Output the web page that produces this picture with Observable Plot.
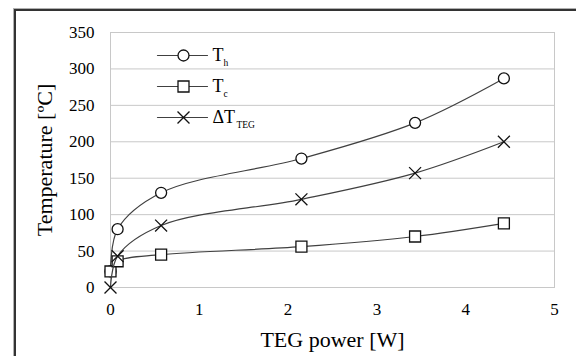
<!DOCTYPE html>
<html>
<head>
<meta charset="utf-8">
<script src="https://cdn.jsdelivr.net/npm/d3@7"></script>
<script src="https://cdn.jsdelivr.net/npm/@observablehq/plot@0.6"></script>
<style>
  html, body { margin: 0; padding: 0; background: #fff; }
  #wrap { position: relative; width: 576px; height: 356px; overflow: hidden; }
  #border {
    position: absolute; left: 14px; top: 9px; width: 600px; height: 400px;
    border-left: 2px solid #333; border-top: 2px solid #333;
    box-shadow: -1px -1px 0 #b0b0b0;
    pointer-events: none;
  }
  #chart { position: absolute; left: 0; top: 0; }
</style>
</head>
<body>
<div id="wrap"><div id="chart"></div><div id="border"></div></div>
<script>
// TEG electrical power output [W]
const power = [0, 0.08, 0.57, 2.15, 3.43, 4.43];
// hot-side temperature [°C]
const tHot = [22, 80, 130, 177, 226, 287];
// cold-side temperature [°C]
const tCold = [22, 36, 45, 56, 70, 88];
// temperature difference across the TEG [°C]
const deltaT = [0, 43, 85, 121, 157, 200];

const xTicks = [0, 1, 2, 3, 4, 5];
const yTicks = [0, 50, 100, 150, 200, 250, 300, 350];

const legendMain = ["T", "T", "ΔT"];
const legendSub = ["h", "c", "TEG"];
const legendSymbols = ["circle", "square", "times"];

const seriesValues = [tHot, tCold, deltaT];
const series = seriesValues.map((vals) => power.map((p, i) => ({power: p, temp: vals[i]})));

const font = "Liberation Serif";
const lineColor = "#404040";

const marks = [
  Plot.gridY(yTicks, {stroke: "#c8c8c8", strokeOpacity: 1}),
  Plot.frame({stroke: "#c8c8c8"}),
  Plot.axisX(xTicks, {tickSize: 0, tickPadding: 15, fontSize: 17, fontVariant: "normal", label: null}),
  Plot.axisY(yTicks, {tickSize: 0, tickPadding: 16, fontSize: 17, fontVariant: "normal", label: null}),
  Plot.text(["TEG power [W]"], {frameAnchor: "bottom", dy: 52, fontSize: 22, textAnchor: "middle", lineAnchor: "middle", fill: "#000"}),
  Plot.text(["Temperature [ºC]"], {frameAnchor: "left", dx: -66, rotate: -90, fontSize: 22, textAnchor: "middle", lineAnchor: "middle", fill: "#000"})
];

series.forEach((rows, k) => {
  marks.push(Plot.line(rows, {x: "power", y: "temp", curve: "catmull-rom", stroke: lineColor, strokeWidth: 1.2}));
  marks.push(Plot.dot(rows, {
    x: "power", y: "temp", symbol: legendSymbols[k], r: k === 1 ? 6.2 : 5.5,
    stroke: "#111", strokeWidth: 1.3, fill: k === 2 ? "none" : "#fff"
  }));
});

// legend rows inside the plot area
const legendShape = {draw(context, l) { context.moveTo(0, 0); context.lineTo(0, -l); }};
legendMain.forEach((label, k) => {
  const dy = 23 + 31 * k;
  marks.push(Plot.vector([label], {frameAnchor: "top-left", dx: 47, dy, length: 50, rotate: 90, anchor: "start", shape: legendShape, stroke: lineColor, strokeWidth: 1.2}));
  marks.push(Plot.dot([label], {frameAnchor: "top-left", dx: 73, dy, symbol: legendSymbols[k], r: k === 1 ? 6.2 : 5.5, stroke: "#111", strokeWidth: 1.3, fill: k === 2 ? "none" : "#fff"}));
  marks.push(Plot.text([label], {frameAnchor: "top-left", dx: 102, dy, text: (d) => d, textAnchor: "start", lineAnchor: "middle", fontSize: 18, fill: "#000"}));
  marks.push(Plot.text([legendSub[k]], {frameAnchor: "top-left", dx: k === 2 ? 126 : 113, dy: dy + 7, text: (d) => d, textAnchor: "start", lineAnchor: "middle", fontSize: 9.5, fill: "#000"}));
});

const chart = Plot.plot({
  width: 576,
  height: 356,
  marginLeft: 110,
  marginRight: 22,
  marginTop: 32,
  marginBottom: 69,
  style: {fontFamily: font, color: "#000", background: "transparent"},
  x: {domain: [0, 5]},
  y: {domain: [0, 350]},
  marks
});
// serif face on every label, ticks included
d3.select(chart).selectAll("text").style("font-family", font).style("font-variant", "normal");
document.getElementById("chart").appendChild(chart);
</script>
</body>
</html>
